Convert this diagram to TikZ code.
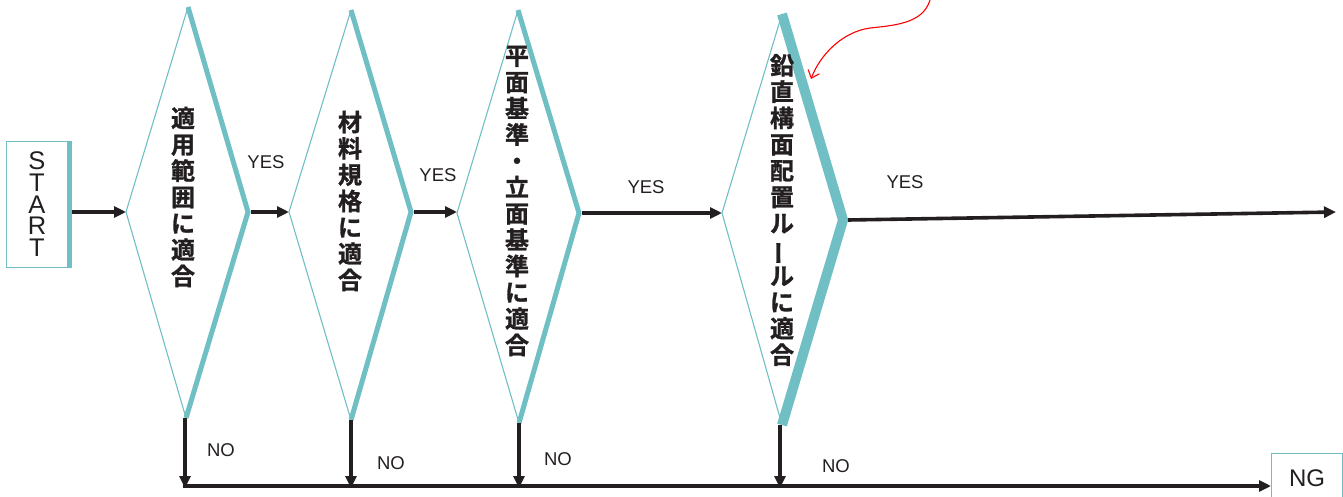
\documentclass[tikz,border=0pt]{standalone}
\usepackage{fontspec}
\setmainfont{Liberation Sans}
\newfontfamily\jp{Noto Sans CJK JP}[UprightFont=* Bold, FakeBold=1.2]
\usetikzlibrary{arrows.meta}
\definecolor{teal1}{RGB}{111,191,196}
\definecolor{ink}{RGB}{35,31,32}
\tikzset{
  thinedge/.style={draw=teal1, line width=1.1pt, line join=miter},
  thickedge/.style={draw=teal1, line width=5pt, line join=miter},
  flow/.style={draw=ink, line width=3.6pt, -{Triangle[length=12pt,width=11pt]}},
  lbl/.style={font=\fontsize{18.5}{20}\selectfont, text=ink, inner sep=0pt},
  letter/.style={font=\fontsize{25.5}{24}\selectfont, text=ink, inner sep=0pt, text height=18pt, text depth=0pt},
  jtext/.style={font=\jp\fontsize{24}{26.3}\selectfont, text=ink, align=center, inner sep=0pt},
  boxnode/.style={draw=teal1, line width=1.1pt, inner sep=0pt}
}
\begin{document}
\begin{tikzpicture}[x=1pt,y=-1pt]
\useasboundingbox (0,0) rectangle (1343,497);

% START box
\node[boxnode, minimum width=61pt, minimum height=126pt, anchor=north west] (start) at (6,141) {};
\draw[draw=teal1, line width=4pt] ([xshift=2pt]start.north east) -- ([xshift=2pt]start.south east);
\node[letter] (s1) at (37,161) {S};
\node[letter] (s2) at (37,182.5) {T};
\node[letter] (s3) at (37,204) {A};
\node[letter] (s4) at (37,225.5) {R};
\node[letter] (s5) at (37,247) {T};

% diamond vertices
\coordinate (d1t) at (188,7);   \coordinate (d1l) at (126,212);
\coordinate (d1r) at (248,212); \coordinate (d1b) at (186,418);
\coordinate (d2t) at (351,10);  \coordinate (d2l) at (289,212);
\coordinate (d2r) at (411,212); \coordinate (d2b) at (351,420);
\coordinate (d3t) at (518,10);  \coordinate (d3l) at (457,213);
\coordinate (d3r) at (579,213); \coordinate (d3b) at (519,423);
\coordinate (d4t) at (782,14);  \coordinate (d4l) at (722,213);
\coordinate (d4r) at (843,220); \coordinate (d4b) at (782,425);

\draw[thinedge] (d1t) -- (d1l) -- (d1b);
\draw[thickedge] (d1t) -- (d1r) -- (d1b);
\draw[thinedge] (d2t) -- (d2l) -- (d2b);
\draw[thickedge] (d2t) -- (d2r) -- (d2b);
\draw[thinedge] (d3t) -- (d3l) -- (d3b);
\draw[thickedge] (d3t) -- (d3r) -- (d3b);
\draw[thinedge] (d4t) -- (d4l) -- (d4b);
\draw[thickedge, line width=10pt] (d4t) -- (d4r) -- (d4b);

% diamond texts
\node[jtext] (t1) at (183,197) {適\\用\\範\\囲\\に\\適\\合};
\node[jtext] (t2) at (350,201) {材\\料\\規\\格\\に\\適\\合};
\node[jtext] (t3) at (517,201) {平\\面\\基\\準\\・\\立\\面\\基\\準\\に\\適\\合};
\node[jtext] (t4) at (782,210) {鉛\\直\\構\\面\\配\\置\\ル\\\rotatebox[origin=c]{90}{ー}\\ル\\に\\適\\合};

% horizontal flow
\draw[flow] ([xshift=4pt]start.east |- d1l) -- (d1l);
\draw[flow] ([xshift=3pt]d1r) -- (d2l);
\draw[flow] ([xshift=3pt]d2r) -- (d2l -| d3l);
\draw[flow] ([xshift=3pt]d3r) -- (d4l);
\coordinate (endyes) at (1336,212);
\draw[flow] ([xshift=5pt]d4r) -- (endyes);

\node[lbl] (y1) at (266,162) {YES};
\node[lbl] (y2) at (438,175) {YES};
\node[lbl] (y3) at (646,187) {YES};
\node[lbl] (y4) at (905,182) {YES};

% NG box
\node[boxnode, minimum width=71pt, minimum height=60pt, anchor=north west] (ng) at (1271,453) {};
\node[font=\fontsize{24}{26}\selectfont, text=ink, inner sep=0pt] (ngt) at (1307,478) {NG};

% NO branch
\coordinate (b1) at (185,486);
\coordinate (b2) at (351,486);
\coordinate (b3) at (519,486);
\coordinate (b4) at (780,486);
\draw[flow] ([xshift=-1pt]d1b) -- ([yshift=-2pt]b1);
\draw[flow] (d2b) -- ([yshift=-2pt]b2);
\draw[flow] (d3b) -- ([yshift=-2pt]b3);
\draw[flow] ([xshift=-2pt]d4b) -- ([yshift=-2pt]b4);
\draw[flow] ([xshift=-1.8pt]b1) -- (ng.west |- b1);

\node[lbl] (n1) at (221,450) {NO};
\node[lbl] (n2) at (391,463) {NO};
\node[lbl] (n3) at (558,459) {NO};
\node[lbl] (n4) at (836,466) {NO};

% red pointer
\coordinate (rs) at (931,-4);
\coordinate (re) at (811,79);
\draw[red, line width=1.1pt, -{Straight Barb[length=7pt,width=12pt]}]
  (rs) .. controls (926,22) and (900,25) .. (870,28)
       .. controls (842,32) and (820,55) .. (re);
\end{tikzpicture}
\end{document}
